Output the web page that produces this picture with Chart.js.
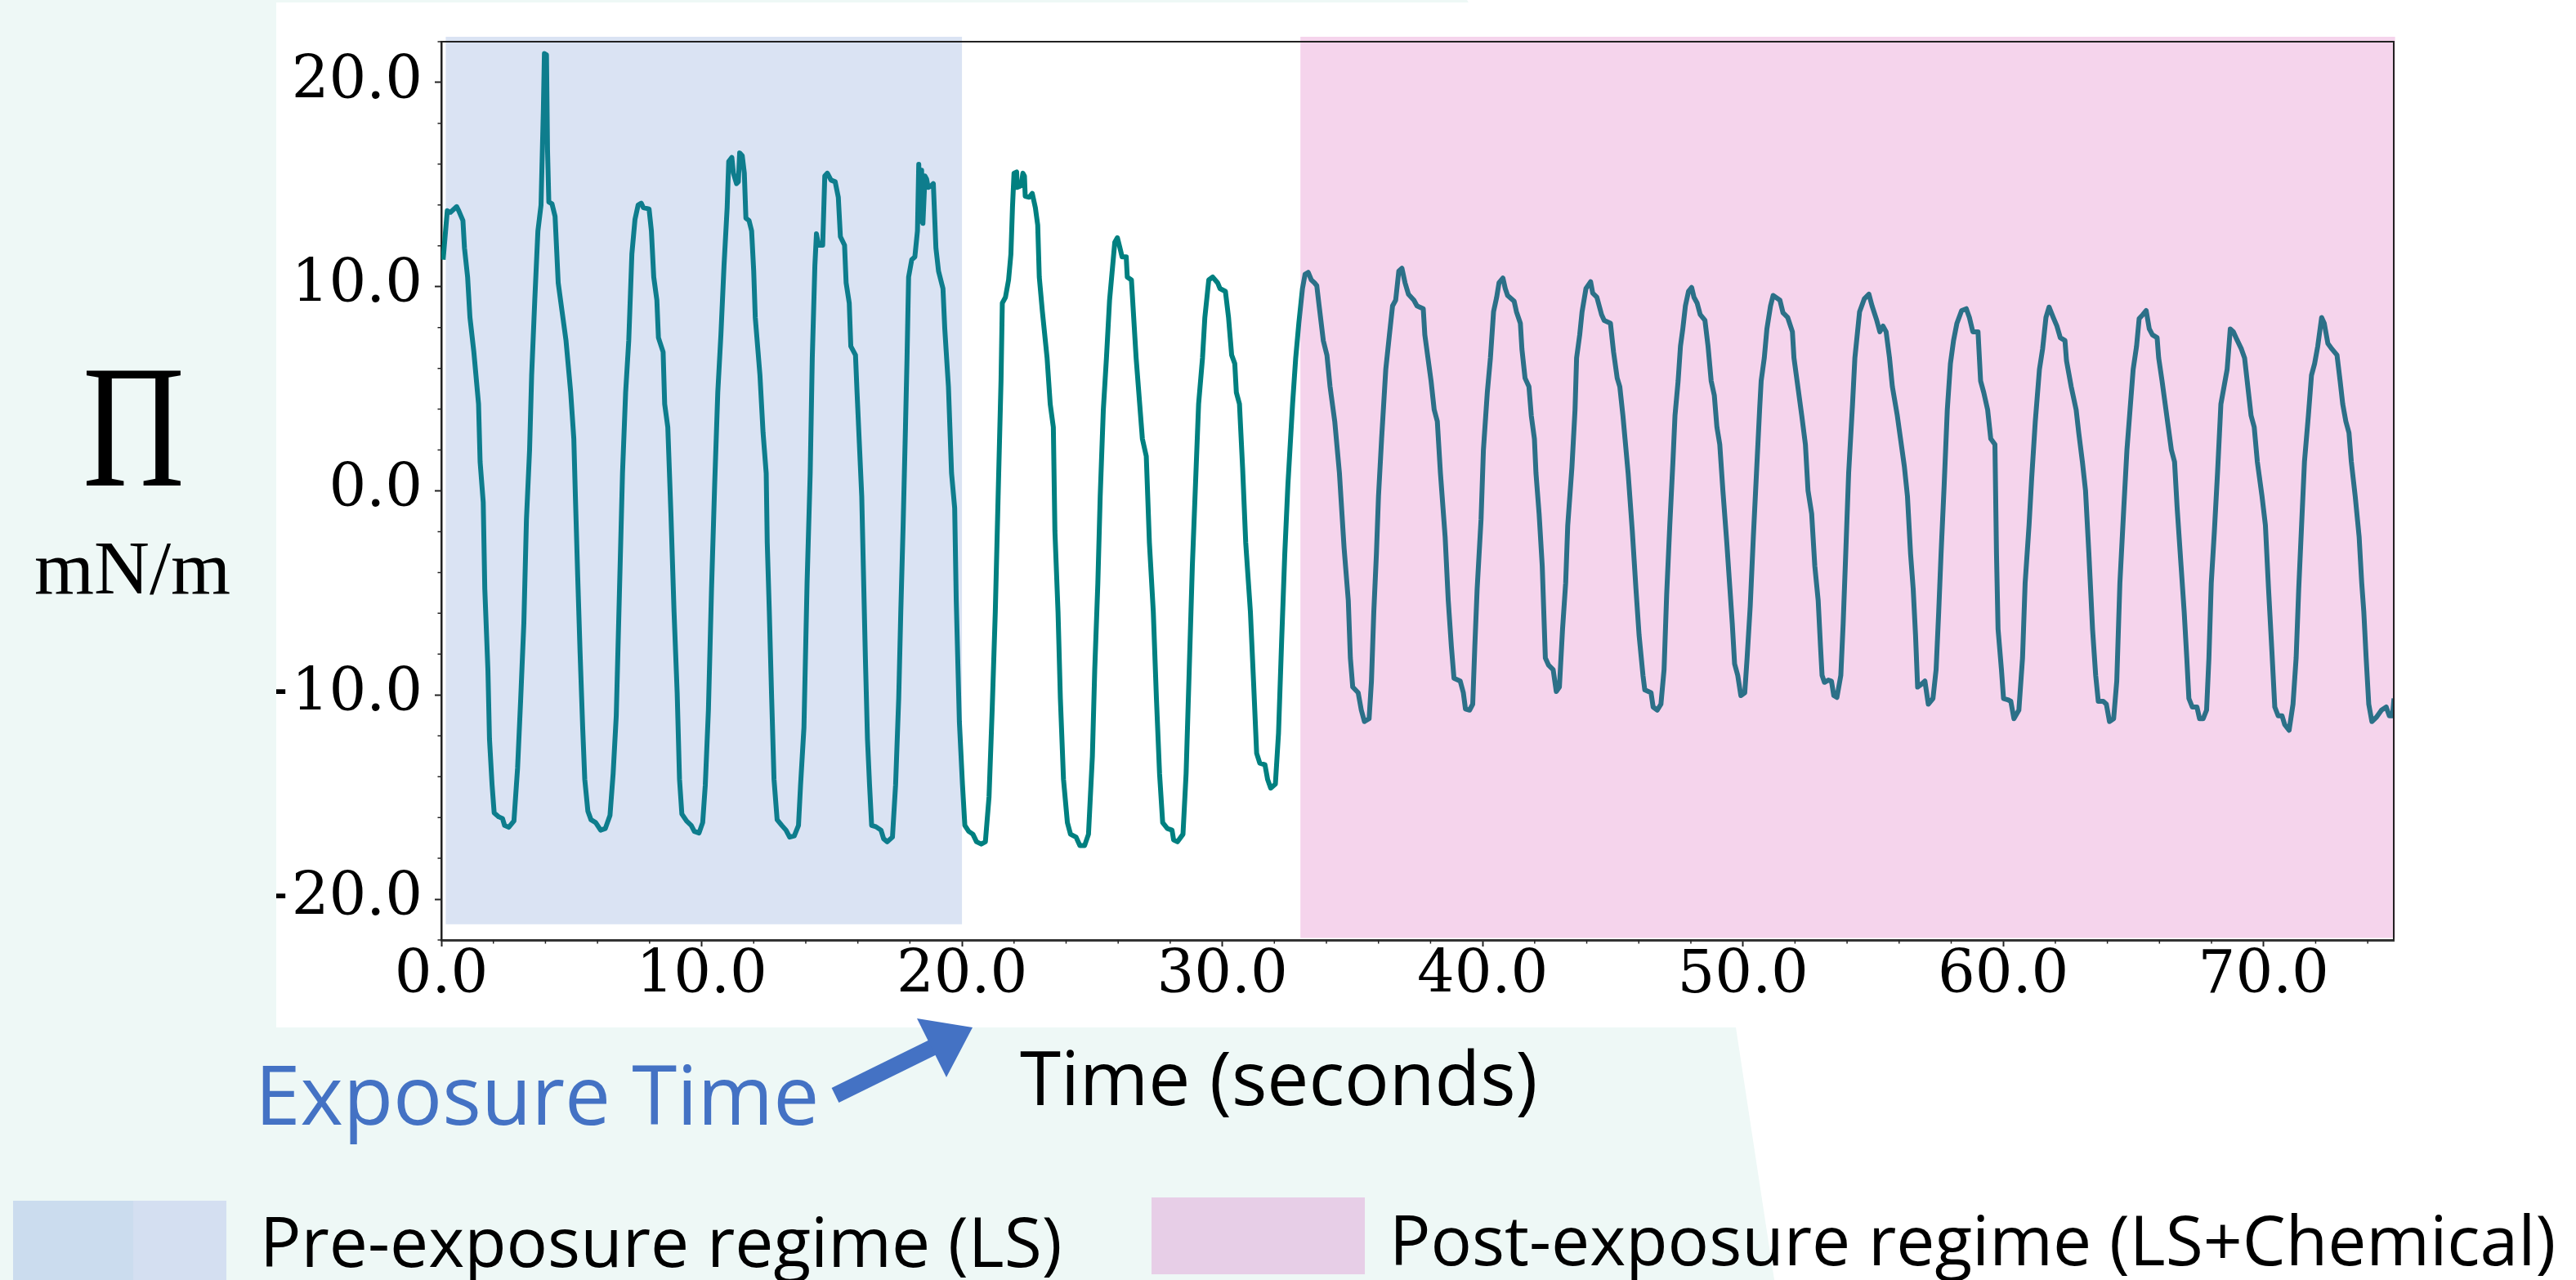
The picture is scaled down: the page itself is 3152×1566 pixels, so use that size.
<!DOCTYPE html>
<html>
<head>
<meta charset="utf-8">
<script src="https://cdn.jsdelivr.net/npm/chart.js@4.4.0/dist/chart.umd.min.js"></script>
<style>
  html, body { margin: 0; padding: 0; width: 3152px; height: 1566px; overflow: hidden; background: #fff; }
  #mint {
    position: absolute; left: 0; top: 0; width: 3152px; height: 1566px; background: #eef8f6;
    clip-path: polygon(0 0, 1795px 0, 1800px 8px, 2124px 1257px, 2171px 1566px, 0 1566px);
  }
  #plotImg { position: absolute; left: 338px; top: 3px; width: 2814px; height: 1254px; background: #fff; overflow: hidden; }
  #chartBox { position: absolute; left: -58px; top: -3px; width: 2700px; height: 1250px; }
  #notes { position: absolute; left: 0; top: 0; }
</style>
</head>
<body>
<div id="mint"></div>
<div id="plotImg">
  <div id="chartBox"><canvas id="piChart" width="2700" height="1250"></canvas></div>
</div>
<svg id="notes" width="3152" height="1566">
  <text x="101" y="594" font-family="Liberation Serif" font-size="214" textLength="125" lengthAdjust="spacingAndGlyphs">Π</text>
  <text x="42" y="726" font-family="Liberation Serif" font-size="94">mN/m</text>
  <text x="312" y="1376" font-family="Open Sans" font-size="100" fill="#4472c4">Exposure Time</text>
  <line x1="1022" y1="1340" x2="1146" y2="1279" stroke="#4472c4" stroke-width="20" />
  <polygon points="1122,1246 1190,1257 1158,1318" fill="#4472c4" />
  <text x="1248" y="1352" font-family="Open Sans" font-size="91" fill="#000">Time (seconds)</text>
  <rect x="16" y="1469" width="147" height="97" fill="#cbdcee" />
  <rect x="163" y="1469" width="114" height="97" fill="#d4dff1" />
  <text x="318" y="1550" font-family="Open Sans" font-size="84" fill="#000">Pre-exposure regime (LS)</text>
  <rect x="1409" y="1465" width="261" height="94" fill="#e7cee7" />
  <text x="1700" y="1548" font-family="Open Sans" font-size="84" fill="#000">Post-exposure regime (LS+Chemical)</text>
</svg>
<script>
// time (s) and surface pressure (mN/m)
const timeS = [
  0.07, 0.23, 0.35, 0.59, 0.67, 0.83, 0.89, 1.01, 1.10, 1.25, 1.43, 1.49, 1.61, 1.67, 1.79, 1.85, 1.95, 2.03, 2.21, 2.35,
  2.43, 2.59, 2.79, 2.93, 3.05, 3.17, 3.27, 3.39, 3.47, 3.59, 3.71, 3.83, 3.92, 3.96, 4.04, 4.08, 4.13, 4.25, 4.37, 4.49,
  4.64, 4.79, 4.97, 5.09, 5.15, 5.24, 5.33, 5.43, 5.51, 5.63, 5.75, 5.93, 6.12, 6.30, 6.48, 6.60, 6.72, 6.84, 6.96, 7.08,
  7.20, 7.32, 7.44, 7.56, 7.68, 7.76, 7.98, 8.07, 8.16, 8.28, 8.34, 8.52, 8.58, 8.70, 8.82, 8.94, 9.06, 9.15, 9.24, 9.42,
  9.60, 9.72, 9.90, 10.04, 10.14, 10.26, 10.38, 10.50, 10.62, 10.74, 10.86, 10.98, 11.04, 11.16, 11.22, 11.34, 11.41, 11.46, 11.56, 11.64,
  11.70, 11.82, 11.92, 12.00, 12.06, 12.24, 12.36, 12.48, 12.52, 12.60, 12.69, 12.78, 12.90, 13.08, 13.24, 13.38, 13.56, 13.72, 13.80, 13.93,
  14.05, 14.17, 14.25, 14.35, 14.41, 14.49, 14.65, 14.73, 14.83, 14.97, 15.13, 15.25, 15.33, 15.49, 15.55, 15.67, 15.73, 15.91, 15.97, 16.05,
  16.15, 16.21, 16.29, 16.37, 16.45, 16.53, 16.69, 16.89, 16.99, 17.13, 17.33, 17.45, 17.57, 17.65, 17.74, 17.83, 17.89, 17.95, 18.07, 18.19,
  18.29, 18.34, 18.40, 18.45, 18.50, 18.58, 18.64, 18.70, 18.82, 18.90, 19.00, 19.10, 19.27, 19.34, 19.48, 19.60, 19.72, 19.78, 19.90, 20.02,
  20.11, 20.26, 20.42, 20.56, 20.74, 20.90, 21.04, 21.16, 21.28, 21.40, 21.50, 21.55, 21.67, 21.79, 21.88, 21.94, 22.00, 22.10, 22.12, 22.27,
  22.34, 22.40, 22.43, 22.58, 22.70, 22.82, 22.91, 22.97, 23.09, 23.27, 23.39, 23.51, 23.57, 23.69, 23.78, 23.90, 24.05, 24.17, 24.38, 24.53,
  24.71, 24.86, 25.01, 25.10, 25.22, 25.31, 25.43, 25.55, 25.67, 25.79, 25.87, 25.97, 26.07, 26.15, 26.31, 26.35, 26.51, 26.69, 26.93, 27.08,
  27.20, 27.35, 27.47, 27.59, 27.71, 27.89, 28.07, 28.13, 28.28, 28.49, 28.61, 28.73, 28.85, 28.97, 29.09, 29.24, 29.33, 29.48, 29.63, 29.82,
  29.91, 30.12, 30.24, 30.36, 30.48, 30.54, 30.66, 30.78, 30.90, 31.08, 31.20, 31.32, 31.44, 31.64, 31.74, 31.86, 32.04, 32.16, 32.28, 32.40,
  32.52, 32.70, 32.82, 32.94, 33.08, 33.18, 33.30, 33.42, 33.54, 33.63, 33.72, 33.88, 34.02, 34.14, 34.32, 34.50, 34.68, 34.84, 34.92, 35.01,
  35.22, 35.34, 35.46, 35.64, 35.73, 35.82, 35.92, 36.00, 36.12, 36.28, 36.42, 36.54, 36.66, 36.78, 36.90, 37.02, 37.15, 37.36, 37.48, 37.72,
  37.78, 37.90, 38.02, 38.14, 38.26, 38.38, 38.56, 38.68, 38.80, 38.90, 39.14, 39.26, 39.34, 39.50, 39.62, 39.70, 39.79, 39.94, 40.03, 40.18,
  40.30, 40.42, 40.54, 40.63, 40.78, 40.87, 40.96, 41.21, 41.30, 41.45, 41.51, 41.63, 41.78, 41.87, 41.99, 42.05, 42.17, 42.29, 42.41, 42.53,
  42.71, 42.83, 42.95, 43.07, 43.19, 43.27, 43.43, 43.55, 43.61, 43.73, 43.82, 43.97, 44.15, 44.23, 44.39, 44.57, 44.67, 44.91, 45.03, 45.17,
  45.27, 45.39, 45.47, 45.59, 45.75, 45.89, 46.01, 46.16, 46.23, 46.47, 46.55, 46.71, 46.85, 46.97, 47.07, 47.19, 47.31, 47.39, 47.51, 47.60,
  47.69, 47.79, 47.91, 48.03, 48.12, 48.24, 48.36, 48.54, 48.66, 48.78, 48.90, 49.00, 49.11, 49.23, 49.38, 49.50, 49.59, 49.68, 49.80, 49.92,
  50.07, 50.16, 50.28, 50.40, 50.52, 50.64, 50.70, 50.82, 50.92, 51.06, 51.16, 51.42, 51.54, 51.72, 51.90, 51.96, 52.08, 52.26, 52.40, 52.50,
  52.64, 52.76, 52.89, 52.98, 53.04, 53.13, 53.28, 53.40, 53.49, 53.61, 53.76, 53.85, 53.94, 54.06, 54.21, 54.30, 54.48, 54.66, 54.84, 54.96,
  55.14, 55.26, 55.38, 55.50, 55.63, 55.74, 55.93, 56.20, 56.32, 56.44, 56.54, 56.63, 56.71, 56.87, 56.99, 57.12, 57.30, 57.42, 57.52, 57.61,
  57.73, 57.85, 57.97, 58.09, 58.22, 58.40, 58.58, 58.70, 58.83, 59.03, 59.13, 59.25, 59.40, 59.52, 59.68, 59.74, 59.80, 59.93, 60.01, 60.17,
  60.29, 60.41, 60.60, 60.74, 60.84, 60.99, 61.09, 61.23, 61.39, 61.51, 61.64, 61.76, 61.92, 62.06, 62.19, 62.37, 62.43, 62.61, 62.80, 62.90,
  63.04, 63.16, 63.29, 63.43, 63.55, 63.65, 63.84, 63.96, 64.08, 64.24, 64.36, 64.48, 64.63, 64.75, 64.87, 64.99, 65.12, 65.22, 65.36, 65.49,
  65.61, 65.73, 65.91, 65.97, 66.10, 66.22, 66.34, 66.46, 66.58, 66.68, 66.83, 66.95, 67.05, 67.13, 67.26, 67.44, 67.54, 67.68, 67.81, 67.90,
  67.99, 68.11, 68.23, 68.36, 68.48, 68.60, 68.72, 68.84, 68.97, 69.15, 69.27, 69.37, 69.52, 69.64, 69.76, 69.94, 70.07, 70.19, 70.31, 70.43,
  70.56, 70.71, 70.81, 70.98, 71.13, 71.25, 71.35, 71.47, 71.57, 71.72, 71.84, 71.96, 72.08, 72.23, 72.33, 72.47, 72.63, 72.82, 72.94, 73.04,
  73.16, 73.28, 73.37, 73.52, 73.67, 73.77, 73.85, 73.94, 74.04, 74.16, 74.34, 74.53, 74.71, 74.83, 74.95, 75.01
];
const surfacePressure = [
  11.32, 13.72, 13.64, 13.92, 13.72, 13.24, 11.89, 10.47, 8.49, 6.80, 4.25, 1.42, -0.56, -4.80, -8.76, -12.15, -14.41, -15.77, -15.97, -16.05,
  -16.39, -16.48, -16.17, -13.57, -10.17, -6.50, -1.40, 1.99, 5.66, 9.34, 12.73, 14.00, 18.67, 21.42, 21.36, 16.69, 14.15, 14.06, 13.44, 10.19,
  8.77, 7.36, 4.82, 2.55, -0.27, -4.23, -7.91, -11.59, -14.13, -15.69, -16.11, -16.25, -16.62, -16.54, -15.89, -13.85, -11.02, -5.08, 0.86, 4.82,
  7.36, 11.60, 13.30, 14.00, 14.09, 13.87, 13.81, 12.73, 10.47, 9.34, 7.50, 6.80, 4.25, 3.12, -1.12, -5.93, -9.89, -14.13, -15.83, -16.17,
  -16.39, -16.68, -16.76, -16.25, -14.41, -10.74, -4.80, 0.29, 4.82, 7.64, 11.04, 13.87, 16.13, 16.33, 15.56, 15.05, 15.14, 16.55, 16.41, 15.56,
  13.36, 13.24, 12.73, 10.76, 8.49, 5.66, 2.84, 0.86, -2.54, -5.93, -10.17, -14.13, -16.11, -16.39, -16.62, -16.96, -16.90, -16.39, -14.41, -11.59,
  -4.52, 0.86, 6.51, 11.04, 12.59, 12.03, 12.03, 15.42, 15.56, 15.22, 15.14, 14.38, 12.45, 12.03, 10.19, 9.20, 7.08, 6.65, 4.82, 2.55,
  -0.27, -3.67, -8.19, -12.15, -14.41, -16.39, -16.45, -16.62, -17.04, -17.19, -16.96, -14.41, -10.17, -5.93, -1.69, 3.12, 6.51, 10.47, 11.32, 11.46,
  12.73, 15.99, 13.20, 15.70, 13.10, 15.42, 15.28, 14.86, 14.94, 15.05, 11.89, 10.76, 9.91, 7.93, 5.10, 0.86, -0.84, -5.37, -11.30, -14.41,
  -16.39, -16.68, -16.82, -17.19, -17.30, -17.19, -14.98, -10.74, -5.93, 0.29, 5.38, 9.20, 9.48, 10.33, 11.60, 13.87, 15.56, 15.62, 14.86, 14.94,
  15.56, 15.42, 14.43, 14.38, 14.57, 13.87, 13.02, 10.47, 8.77, 6.51, 4.25, 3.12, -1.97, -5.93, -10.17, -14.13, -16.25, -16.82, -16.96, -17.38,
  -17.38, -16.82, -13.00, -8.76, -4.52, -0.27, 3.97, 6.51, 9.34, 11.04, 12.17, 12.40, 11.89, 11.46, 11.46, 10.47, 10.33, 6.51, 2.55, 1.70,
  -2.54, -5.93, -10.17, -13.85, -16.25, -16.54, -16.62, -17.10, -17.19, -16.82, -13.85, -8.76, -3.67, 0.29, 4.25, 6.51, 8.49, 10.33, 10.47, 10.19,
  9.91, 9.77, 8.49, 6.65, 6.23, 4.82, 4.25, 1.14, -2.54, -5.93, -9.32, -12.86, -13.34, -13.42, -14.13, -14.56, -14.36, -11.87, -7.34, -3.10,
  0.29, 4.25, 6.51, 8.21, 9.91, 10.61, 10.70, 10.33, 10.19, 10.05, 9.06, 7.36, 6.65, 5.10, 3.40, 0.86, -2.82, -5.37, -8.19, -9.61,
  -9.89, -10.74, -11.30, -11.16, -9.32, -5.93, -3.10, -0.27, 2.55, 5.95, 7.64, 9.06, 9.34, 10.76, 10.90, 10.19, 9.63, 9.34, 9.06, 8.92,
  7.64, 6.51, 5.38, 3.97, 3.40, 0.86, -2.25, -5.37, -7.63, -9.18, -9.32, -9.89, -10.68, -10.74, -10.45, -7.63, -4.80, -1.40, 1.99, 4.82,
  6.51, 8.77, 9.48, 10.19, 10.42, 9.91, 9.57, 9.29, 8.77, 8.21, 6.94, 5.52, 5.10, 3.68, 2.55, 0.86, -1.12, -3.67, -8.19, -8.53,
  -8.76, -9.83, -9.61, -6.78, -4.52, -1.69, 1.14, 3.97, 6.51, 7.64, 8.77, 9.91, 10.24, 9.68, 9.48, 8.63, 8.35, 8.21, 6.80, 5.52,
  5.10, 3.68, 2.55, 0.86, -1.97, -4.80, -7.06, -9.04, -9.75, -9.89, -10.59, -10.74, -10.45, -8.76, -5.08, -1.69, 1.42, 3.68, 5.38, 7.08,
  7.93, 9.06, 9.77, 9.96, 9.48, 9.20, 8.63, 8.35, 7.08, 5.38, 4.68, 3.12, 2.27, 0.01, -2.54, -4.80, -6.50, -8.48, -9.04, -10.03,
  -9.89, -8.19, -5.65, -2.25, 0.86, 3.97, 5.38, 6.51, 7.93, 9.06, 9.57, 9.34, 8.72, 8.49, 7.79, 6.51, 5.38, 3.68, 2.27, 0.01,
  -1.12, -3.67, -5.37, -7.63, -9.04, -9.38, -9.27, -9.32, -10.03, -10.12, -9.04, -6.50, -3.39, 0.86, 4.25, 6.51, 8.77, 9.40, 9.63, 9.06,
  8.35, 7.79, 8.07, 7.79, 6.51, 5.10, 3.68, 1.20, -0.27, -3.10, -4.80, -7.06, -9.61, -9.46, -9.32, -10.45, -10.17, -8.76, -5.93, -3.10,
  0.29, 3.97, 6.23, 7.36, 8.21, 8.83, 8.92, 8.49, 7.79, 7.79, 5.38, 4.82, 3.97, 2.55, 2.27, -3.10, -6.78, -8.76, -10.17, -10.23,
  -10.31, -11.16, -10.74, -8.19, -4.52, -1.69, 0.58, 3.40, 5.95, 6.94, 8.49, 9.00, 8.49, 8.07, 7.50, 7.36, 6.37, 5.10, 3.97, 2.84,
  1.42, 0.01, -3.10, -6.78, -9.04, -10.31, -10.31, -10.45, -11.30, -11.16, -9.32, -4.52, -0.84, 1.99, 3.97, 5.95, 7.08, 8.44, 8.63, 8.83,
  7.93, 7.64, 7.50, 6.51, 5.38, 4.25, 3.12, 1.99, 1.42, -0.84, -3.67, -5.93, -8.19, -10.17, -10.59, -10.59, -11.16, -11.16, -10.74, -8.19,
  -4.52, -1.97, 0.86, 4.25, 5.10, 5.95, 7.93, 7.79, 7.42, 6.94, 6.51, 5.38, 3.68, 3.12, 1.42, -0.27, -1.69, -4.80, -7.63, -10.59,
  -11.02, -11.02, -11.45, -11.73, -10.45, -8.19, -4.80, -1.40, 1.42, 3.68, 5.66, 6.23, 7.08, 8.49, 8.21, 7.22, 6.94, 6.65, 5.38, 4.25,
  3.40, 2.84, 1.42, -0.27, -2.25, -4.52, -5.93, -8.19, -10.45, -11.30, -11.08, -10.74, -10.59, -11.02, -11.02, -10.17
];

const xTickValues = [0, 10, 20, 30, 40, 50, 60, 70];
const yTickValues = [-20, -10, 0, 10, 20];
// [start time, end time, low Pi, high Pi]
const preExposure = [0.17, 20, -21.23, 22.24];
const postExposure = [33, 75.05, -21.9, 22.24];

const serif = 'DejaVu Serif';

// shaded regimes, laid over the trace like the slide's translucent boxes
const regimeBands = {
  id: 'regimeBands',
  afterDatasetsDraw(chart) {
    const { ctx, scales: { x, y } } = chart;
    [[preExposure, 'rgba(68,114,196,0.2)'], [postExposure, 'rgba(207,52,165,0.21)']].forEach(function (item) {
      const b = item[0];
      const x0 = x.getPixelForValue(b[0]), x1 = x.getPixelForValue(b[1]);
      const y0 = y.getPixelForValue(b[3]), y1 = y.getPixelForValue(b[2]);
      ctx.save();
      ctx.fillStyle = item[1];
      ctx.fillRect(x0, y0, x1 - x0, y1 - y0);
      ctx.restore();
    });
  }
};

// top/right spines and the minor ticks
const frameAndMinor = {
  id: 'frameAndMinor',
  afterDraw(chart) {
    const { ctx, chartArea: a, scales: { x, y } } = chart;
    ctx.save();
    ctx.strokeStyle = '#222';
    ctx.lineWidth = 2;
    ctx.beginPath();
    ctx.moveTo(a.left, a.top); ctx.lineTo(a.right, a.top); ctx.lineTo(a.right, a.bottom);
    ctx.stroke();
    ctx.lineWidth = 1.5;
    ctx.beginPath();
    for (let v = 2; v < 75; v += 2) {
      if (v % 10 === 0) continue;
      const px = x.getPixelForValue(v);
      ctx.moveTo(px, a.bottom); ctx.lineTo(px, a.bottom + 4.5);
    }
    for (let v = -22; v <= 22; v += 2) {
      if (v % 10 === 0) continue;
      const py = y.getPixelForValue(v);
      ctx.moveTo(a.left, py); ctx.lineTo(a.left - 4.5, py);
    }
    ctx.stroke();
    ctx.restore();
  }
};

new Chart(document.getElementById('piChart'), {
  type: 'line',
  data: {
    datasets: [{
      data: timeS.map(function (t, i) { return { x: t, y: surfacePressure[i] }; }),
      borderColor: '#008080',
      borderWidth: 6,
      borderJoinStyle: 'round',
      pointRadius: 0,
      tension: 0,
      fill: false
    }]
  },
  options: {
    responsive: false,
    animation: false,
    layout: { padding: { top: 39, right: 51, left: 0, bottom: 0 } },
    plugins: { legend: { display: false }, tooltip: { enabled: false } },
    scales: {
      x: {
        type: 'linear', min: 0, max: 75,
        afterBuildTicks: function (s) { s.ticks = xTickValues.map(function (v) { return { value: v }; }); },
        afterFit: function (s) { s.height = 100; },
        grid: { drawOnChartArea: false, drawTicks: true, tickLength: 8, tickWidth: 2, tickColor: '#222' },
        border: { display: true, color: '#333', width: 3 },
        ticks: {
          autoSkip: false, maxRotation: 0, padding: 1, color: '#000',
          font: { family: serif, size: 72, lineHeight: 1 },
          callback: function (v) { return v.toFixed(1); }
        }
      },
      y: {
        type: 'linear', min: -22, max: 22,
        afterBuildTicks: function (s) { s.ticks = yTickValues.map(function (v) { return { value: v }; }); },
        afterFit: function (s) { s.width = 260; },
        grid: { drawOnChartArea: false, drawTicks: true, tickLength: 8, tickWidth: 2, tickColor: '#222' },
        border: { display: true, color: '#222', width: 2.5 },
        ticks: {
          padding: 15, color: '#000',
          font: { family: serif, size: 72, lineHeight: 1 },
          callback: function (v) { return (v < 0 ? '\u2212' : '') + Math.abs(v).toFixed(1); }
        }
      }
    }
  },
  plugins: [regimeBands, frameAndMinor]
});
</script>
</body>
</html>
